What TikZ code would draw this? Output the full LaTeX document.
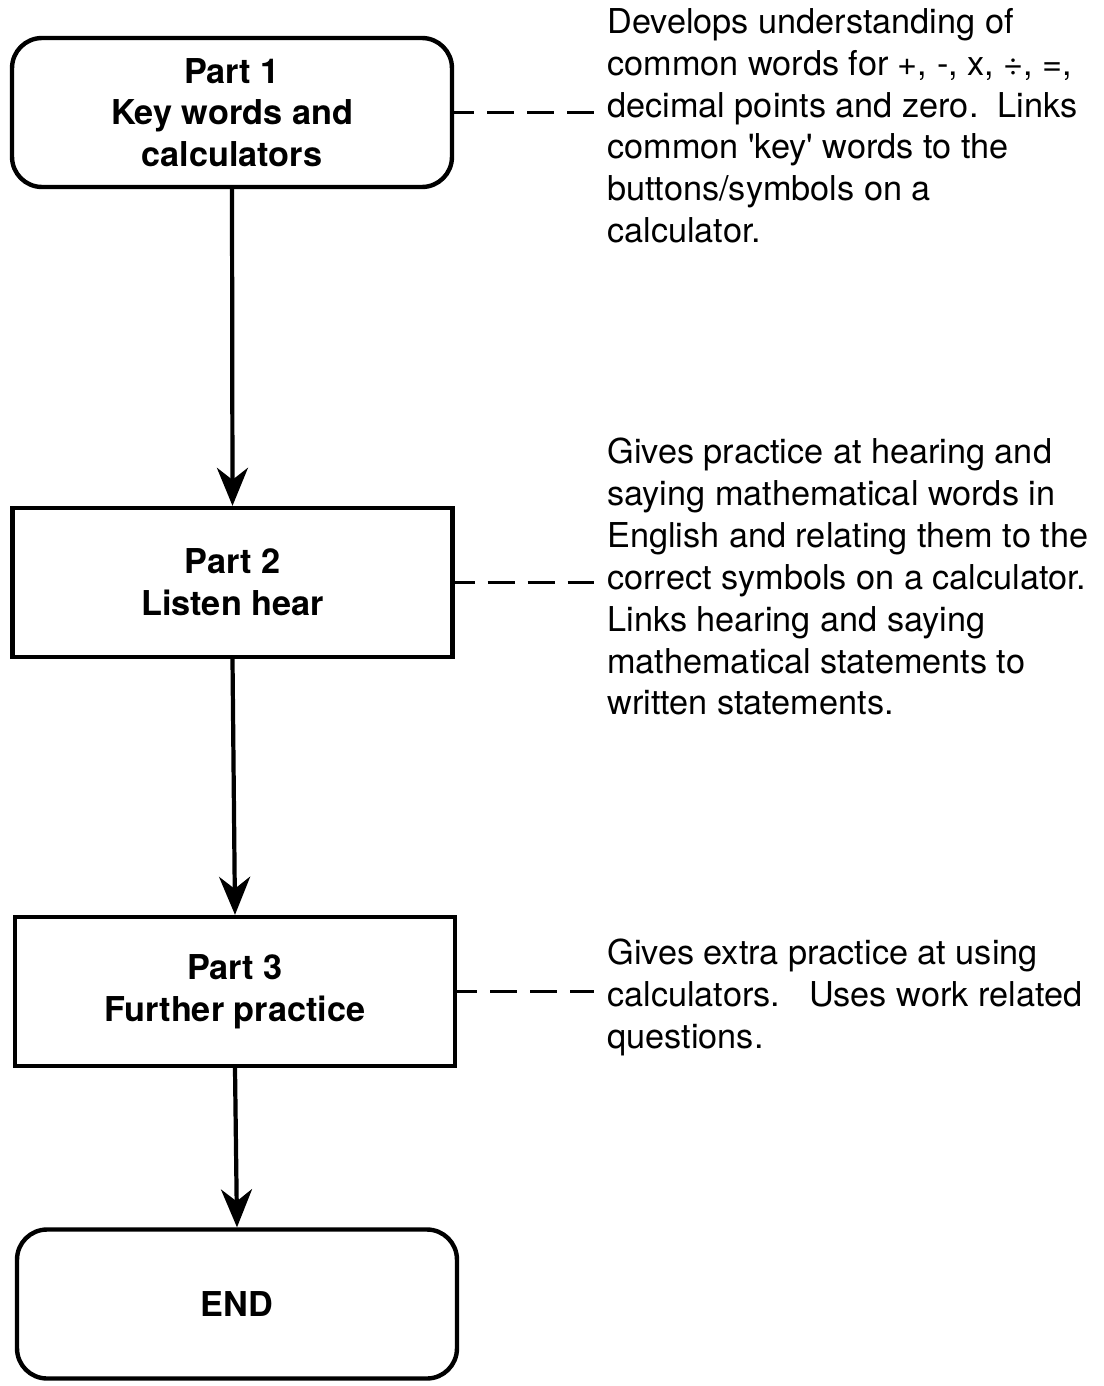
\documentclass[tikz,border=0pt]{standalone}
\usepackage{fontspec}
\setmainfont{TeX Gyre Heros}
\usetikzlibrary{arrows.meta, positioning}

\begin{document}
\begin{tikzpicture}[x=0.02cm, y=-0.02cm,
		partbox/.style = {draw, line width=2.5pt, minimum width=8.8cm, minimum height=2.98cm, align=center, font=\bfseries\fontsize{19.5}{23.8}\selectfont},
		endbox/.style = {partbox, rounded corners=0.6cm},
		note/.style = {anchor=north west, align=left, inner sep=0pt, font=\fontsize{19.5}{23.8}\selectfont},
		flow/.style = {line width=2.4pt, -{Stealth[length=0.76cm, width=0.62cm, inset=0.24cm]}},
		link/.style = {line width=1.6pt, dash pattern=on 0.54cm off 0.26cm, dash phase=0.14cm, shorten >=0.26cm}]
		\useasboundingbox (0, 0) rectangle (1103, 1386);
		% boxes
		\node[endbox] (part1) at (232, 112.5) {Part 1\\Key words and\\calculators};
		\node[partbox] (part2) at (232.5, 582.5) {Part 2\\Listen hear};
		\node[partbox] (part3) at (235, 991.5) {Part 3\\Further practice};
		\node[endbox] (end) at (237, 1304) {END};
		% notes
		\node[note] (note1) at (607, 8) {Develops understanding of\\common words for +, -, x, ÷, =,\\decimal points and zero.\ \ Links\\common \textquotesingle key\textquotesingle\ words to the\\buttons/symbols on a\\calculator.};
		\node[note] (note2) at (607, 438) {Gives practice at hearing and\\saying mathematical words in\\English and relating them to the\\correct symbols on a calculator.\\Links hearing and saying\\mathematical statements to\\written statements.};
		\node[note] (note3) at (607, 939) {Gives extra practice at using\\calculators.\ \ \ Uses work related\\questions.};
		\draw[flow] (part1.south) -- (part2.north);
		\draw[flow] (part2.south) -- (part3.north);
		\draw[flow] (part3.south) -- (end.north);
		\draw[link] (part1.east) -- (part1.east -| note1.west);
		\draw[link] (part2.east) -- (part2.east -| note2.west);
		\draw[link] (part3.east) -- (part3.east -| note3.west);
\end{tikzpicture}
\end{document}
